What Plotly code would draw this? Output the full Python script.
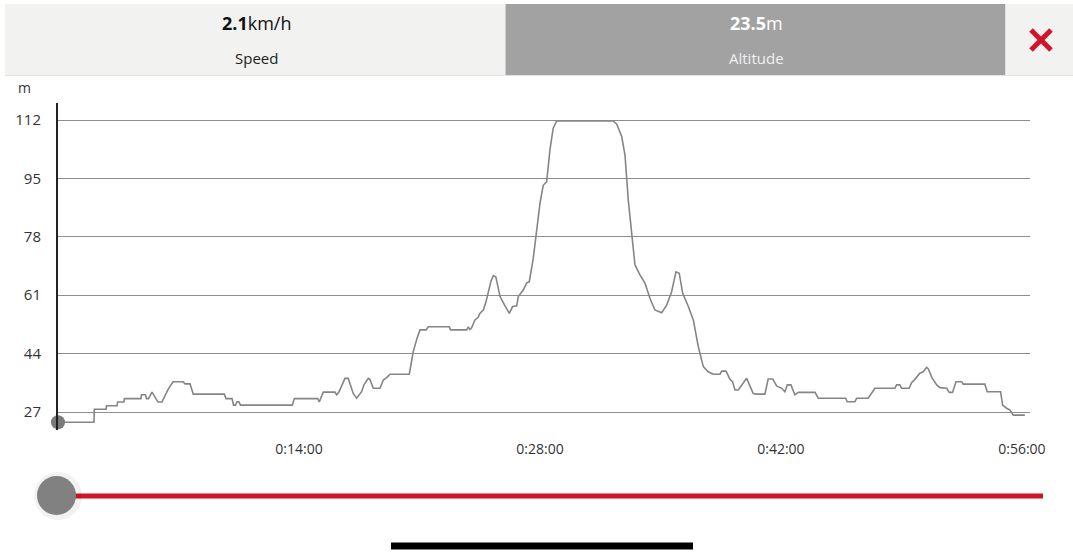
import plotly.graph_objects as go

# ---- data (minutes, metres) ----
minutes = [0, 2.09, 2.11, 2.79, 2.82, 3.43, 3.46, 3.83, 3.86, 4.82, 4.85, 5.08, 5.15, 5.26, 5.46, 5.64,
           5.81, 6.04, 6.39, 6.68, 7.26, 7.38, 7.67, 7.86, 9.66, 9.76, 10.11, 10.20, 10.31, 10.40, 10.51,
           10.60, 13.61, 13.73, 15.09, 15.18, 15.41, 16.09, 16.19, 16.32, 16.50, 16.67, 16.86, 17.02,
           17.15, 17.35, 17.64, 17.78, 18.03, 18.12, 18.32, 18.71, 18.90, 19.09, 19.29, 20.41, 20.64,
           20.86, 21.03, 21.38, 21.51, 22.73, 22.81, 23.74, 23.84, 23.93, 24.03, 24.22, 24.40, 24.51,
           24.71, 24.86, 25.00, 25.15, 25.29, 25.44, 25.56, 25.68, 25.97, 26.22, 26.41, 26.65, 26.74,
           27.03, 27.23, 27.38, 27.61, 27.77, 27.88, 28.00, 28.19, 28.39, 28.58, 28.77, 28.97, 32.26,
           32.46, 32.75, 32.94, 33.13, 33.33, 33.52, 33.81, 34.10, 34.39, 34.68, 35.07, 35.36, 35.65,
           35.90, 36.09, 36.29, 36.62, 36.91, 37.20, 37.49, 37.78, 38.07, 38.46, 38.56, 38.81, 39.04,
           39.19, 39.33, 39.52, 39.74, 40.01, 40.39, 40.59, 41.07, 41.26, 41.52, 41.75, 42.04, 42.23,
           42.37, 42.58, 42.81, 43.01, 43.98, 44.17, 45.76, 45.85, 46.30, 46.40, 47.07, 47.46, 48.62,
           48.72, 48.91, 49.01, 49.45, 49.59, 49.78, 50.07, 50.27, 50.46, 50.56, 50.77, 51.05, 51.24,
           51.63, 51.78, 51.97, 52.17, 52.50, 52.59, 53.85, 53.98, 54.76, 54.88, 55.11, 55.30, 55.50,
           56.17]
altitude = [24.0, 24.0, 27.8, 27.8, 28.8, 28.8, 29.9, 29.9, 30.9, 30.9, 32.0, 32.0, 30.9, 30.9, 32.8, 31.5,
            29.9, 29.9, 33.5, 35.8, 35.8, 35.2, 35.2, 32.2, 32.2, 30.9, 30.9, 29.0, 29.0, 30.0, 30.0,
            29.0, 29.0, 30.9, 30.9, 29.9, 32.8, 32.8, 32.0, 32.8, 35.0, 36.8, 36.8, 34.5,
            32.4, 31.0, 32.9, 35.0, 36.8, 36.5, 33.9, 33.9, 36.3, 37.0, 38.0, 38.0, 44.6,
            48.5, 50.9, 50.9, 51.8, 51.8, 50.9, 50.9, 51.8, 51.0, 51.5, 53.8, 54.5, 55.7,
            56.7, 59.0, 61.6, 65.0, 66.7, 66.3, 63.5, 60.6, 57.9, 55.7, 57.7, 57.9, 60.6,
            62.5, 64.6, 64.9, 71.7, 78.0, 84.0, 87.7, 93.0, 94.0, 103.3, 109.6, 111.7, 111.7,
            110.8, 107.2, 101.8, 88.7, 79.0, 69.8, 66.9, 64.5, 60.1, 56.7, 55.9, 58.1, 62.0,
            67.8, 67.4, 61.6, 57.7, 53.8, 46.0, 40.2, 38.7, 38.0, 38.0, 38.9, 38.9, 36.5,
            35.8, 33.4, 33.4, 35.0, 36.8, 32.4, 32.2, 32.2, 36.6, 36.6, 34.6, 33.9, 32.9,
            34.9, 34.9, 32.0, 32.7, 32.7, 31.0, 31.0, 30.0, 30.0, 31.0, 31.0, 33.9, 33.9,
            34.9, 34.9, 33.9, 33.9, 35.5, 36.5, 38.3, 38.7, 40.0, 39.6, 37.0, 34.9, 34.1,
            33.9, 32.7, 32.7, 35.8, 35.8, 35.1, 35.1, 32.9, 32.9, 29.0, 28.1, 27.6, 26.1,
            26.1]
y_ticks = [27, 44, 61, 78, 95, 112]
x_ticks = [14, 28, 42, 56]
x_labels = ["0:14:00", "0:28:00", "0:42:00", "0:56:00"]
speed_value, speed_unit, speed_name = "2.1", "km/h", "Speed"
alt_value, alt_unit, alt_name = "23.5", "m", "Altitude"

W, H = 1073, 553
FONT = "Open Sans"
RED = "#d0142a"


def px(x):
    return x / W


def py(y):
    return 1 - y / H


fig = go.Figure()
fig.add_trace(go.Scatter(x=minutes, y=altitude, mode="lines",
                         line=dict(color="#858585", width=1.6), hoverinfo="skip",
                         showlegend=False, cliponaxis=False))
fig.add_trace(go.Scatter(x=[minutes[0]], y=[altitude[0]], mode="markers",
                         marker=dict(color="#7a7a7a", size=14), showlegend=False,
                         cliponaxis=False, hoverinfo="skip"))

shapes = []
# top bar panels
shapes.append(dict(type="rect", xref="paper", yref="paper", x0=px(5), x1=px(505.5), y0=py(75), y1=py(4),
                   fillcolor="#f2f2f1", line=dict(width=0), layer="below"))
shapes.append(dict(type="rect", xref="paper", yref="paper", x0=px(505.5), x1=px(1005.5), y0=py(75), y1=py(4),
                   fillcolor="#a2a2a2", line=dict(width=0), layer="below"))
shapes.append(dict(type="rect", xref="paper", yref="paper", x0=px(1005.5), x1=px(1073), y0=py(75), y1=py(4),
                   fillcolor="#f2f2f1", line=dict(width=0), layer="below"))
shapes.append(dict(type="line", xref="paper", yref="paper", x0=px(5), x1=px(1073), y0=py(75.5), y1=py(75.5),
                   line=dict(color="#e4e4e4", width=1)))
# close X
for (a, b, c, d) in [(1031, 30, 1051, 50), (1031, 50, 1051, 30)]:
    shapes.append(dict(type="line", xref="paper", yref="paper", x0=px(a), y0=py(b), x1=px(c), y1=py(d),
                       line=dict(color=RED, width=5)))
# slider track
shapes.append(dict(type="line", xref="paper", yref="paper", x0=px(70), x1=px(1043), y0=py(496), y1=py(496),
                   line=dict(color=RED, width=5)))
# slider knob shadow + knob
shapes.append(dict(type="circle", xref="paper", yref="paper", x0=px(34), x1=px(82), y0=py(520), y1=py(472),
                   fillcolor="rgba(0,0,0,0.05)", line=dict(width=0)))
shapes.append(dict(type="circle", xref="paper", yref="paper", x0=px(37), x1=px(76), y0=py(515), y1=py(476),
                   fillcolor="#818181", line=dict(width=0)))
# home indicator
shapes.append(dict(type="line", xref="paper", yref="paper", x0=px(391), x1=px(693), y0=py(546), y1=py(546),
                   line=dict(color="#000000", width=7)))


def label(x, y, text, size, color):
    return dict(x=px(x), y=py(y), xref="paper", yref="paper", showarrow=False,
                xanchor="center", yanchor="middle", text=text,
                font=dict(family=FONT, size=size, color=color))


annotations = [
    label(256, 23, f"<b>{speed_value}</b>{speed_unit}", 18, "#111111"),
    label(256, 58, speed_name, 15, "#222222"),
    label(756, 23, f"<b>{alt_value}</b>{alt_unit}", 18, "#ffffff"),
    label(756, 58, alt_name, 15, "#f0f0f0"),
    label(24, 87, "m", 14, "#333333"),
]

fig.update_layout(
    width=W, height=H, autosize=False,
    margin=dict(l=0, r=0, t=0, b=0, pad=0),
    paper_bgcolor="#ffffff", plot_bgcolor="#ffffff",
    font=dict(family=FONT, size=14, color="#333333"),
    shapes=shapes, annotations=annotations,
    showlegend=False,
    xaxis=dict(domain=[px(58), px(1030)], range=[0, 56.47], tickvals=x_ticks, ticktext=x_labels,
               showgrid=False, zeroline=False, showline=False, ticks="outside", ticklen=6,
               tickcolor="rgba(0,0,0,0)", tickfont=dict(family=FONT, size=14, color="#333333"),
               automargin=False, fixedrange=True),
    yaxis=dict(domain=[py(430), py(103)], range=[21.76, 116.95], tickvals=y_ticks,
               showgrid=True, gridcolor="#8e8e8e", gridwidth=1.3, zeroline=False,
               showline=True, linecolor="#222222", linewidth=2, ticks="outside", ticklen=12,
               tickcolor="rgba(0,0,0,0)", tickfont=dict(family=FONT, size=15, color="#333333"),
               automargin=False, fixedrange=True),
)

fig.write_html("out.html", config={"responsive": False, "displayModeBar": False},
               post_script="document.body.style.margin='0';")
